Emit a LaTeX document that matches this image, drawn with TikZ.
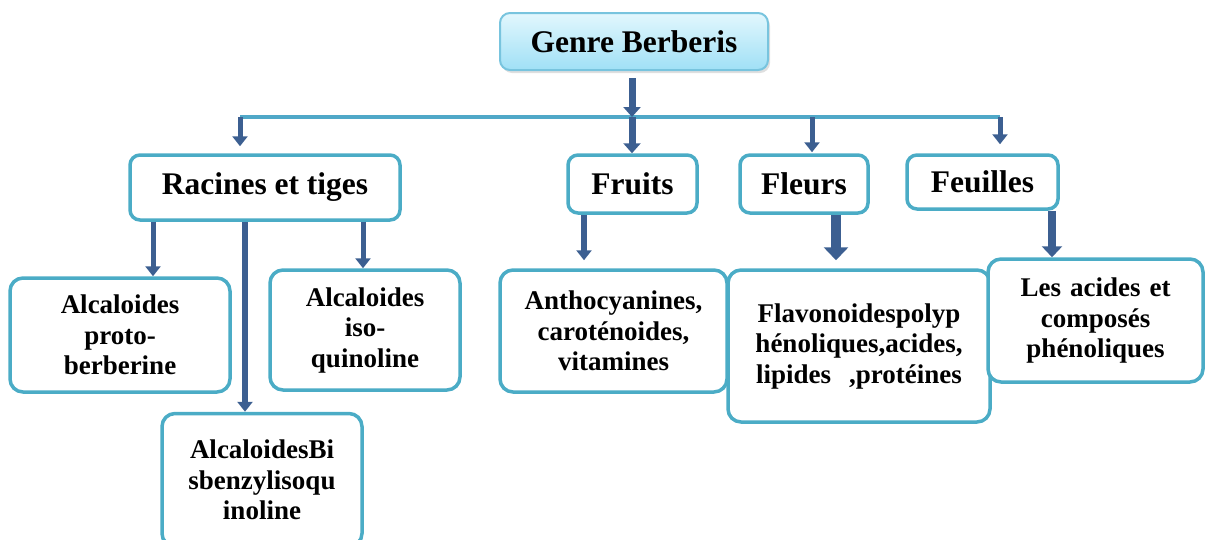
\documentclass[tikz,border=0pt]{standalone}
\usepackage{fontspec}
\setmainfont{Liberation Serif}
\usetikzlibrary{arrows.meta,shadows}
\definecolor{boxc}{RGB}{75,172,198}
\definecolor{rootb}{RGB}{120,196,222}
\definecolor{rootTop}{RGB}{226,247,253}
\definecolor{rootBot}{RGB}{160,224,246}
\definecolor{arrc}{RGB}{60,95,145}
\definecolor{linec}{RGB}{80,168,200}
\tikzset{
  box/.style={draw=boxc, line width=3.5pt, rounded corners=13pt, fill=white, align=center, inner sep=0pt, font=\bfseries\fontsize{27}{30.5}\selectfont},
  bigbox/.style={box, rounded corners=10pt, font=\bfseries\fontsize{31.5}{36}\selectfont},
  arr/.style={draw=arrc, line width=5pt, -{Triangle[width=15pt,length=10pt]}},
  hline/.style={draw=linec, line width=4pt}
}
\begin{document}
\begin{tikzpicture}[x=1pt,y=-1pt]
\useasboundingbox (0,0) rectangle (1206,539);
% root
\node[bigbox, draw=rootb, line width=2pt, top color=rootTop, bottom color=rootBot,
      drop shadow={opacity=0.25, shadow xshift=2pt, shadow yshift=-3pt},
      minimum width=268pt, minimum height=57pt] (root) at (634,41.5) {Genre Berberis};
% level 1
\node[bigbox, minimum width=270pt, minimum height=65pt] (rac) at (265,187.5) {Racines et tiges};
\node[bigbox, minimum width=129pt, minimum height=58pt] (fru) at (632.5,184) {Fruits};
\node[bigbox, minimum width=128pt, minimum height=58pt] (fle) at (804,184) {Fleurs};
\node[bigbox, minimum width=151pt, minimum height=54pt] (feu) at (982.5,182) {Feuilles};
% level 2
\node[box, minimum width=220pt, minimum height=114pt, text width=200pt] (pro) at (120,335) {Alcaloides\\proto-\\berberine};
\node[box, minimum width=190pt, minimum height=120pt, text width=170pt] (iso) at (365,330) {Alcaloides\\iso-\\quinoline};
\node[box, minimum width=200pt, minimum height=133pt, text width=180pt] (bis) at (262,480) {AlcaloidesBi\\sbenzylisoqu\\inoline};
\node[box, minimum width=227pt, minimum height=122pt, text width=210pt] (ant) at (613.5,331) {Anthocyanines,\\caroténoides,\\vitamines};
\node[box, minimum width=262pt, minimum height=152pt, text width=245pt] (fla) at (859,346) {Flavonoidespolyp\\hénoliques,acides,\\lipides~~,protéines};
\node[box, minimum width=215pt, minimum height=123pt, text width=200pt] (aci) at (1095.5,320.5) {Les acides et\\composés\\phénoliques};
% horizontal line
\coordinate (hL) at (240,117);
\coordinate (hF) at (632,117);
\coordinate (hFl) at (812,117);
\coordinate (hR) at (1000,117);
\draw[hline] (hL) -- (hR);
% root arrow
\coordinate (r0) at (632,78);
\draw[arr, line width=7pt, -{Triangle[width=17pt,length=10pt]}] (r0) -- (hF);
\draw[arr, line width=7pt, -{Triangle[width=17pt,length=10pt]}] (hF) -- (fru.north -| hF);
\draw[arr, shorten >=7pt] (hL) -- (rac.north -| hL);
\draw[arr, shorten >=1pt] (hFl) -- (fle.north -| hFl);
\draw[arr, shorten >=9pt] (hR) -- (feu.north -| hR);
% level 2 arrows
\coordinate (xP) at (153,0);
\coordinate (xB) at (245,0);
\coordinate (xI) at (363,0);
\coordinate (xA) at (584,0);
\coordinate (xF) at (836,0);
\coordinate (xC) at (1052,0);
\draw[arr] (rac.south -| xP) -- (pro.north -| xP);
\draw[arr, line width=6pt] (rac.south -| xB) -- (bis.north -| xB);
\draw[arr] (rac.south -| xI) -- (iso.north -| xI);
\draw[arr, line width=6pt, shorten >=8pt] (fru.south -| xA) -- (ant.north -| xA);
\draw[arr, line width=10pt, -{Triangle[width=24pt,length=13pt]}, shorten >=8pt] (fle.south -| xF) -- (fla.north -| xF);
\draw[arr, line width=8pt, -{Triangle[width=20pt,length=11pt]}] (feu.south -| xC) -- (aci.north -| xC);
\end{tikzpicture}
\end{document}
